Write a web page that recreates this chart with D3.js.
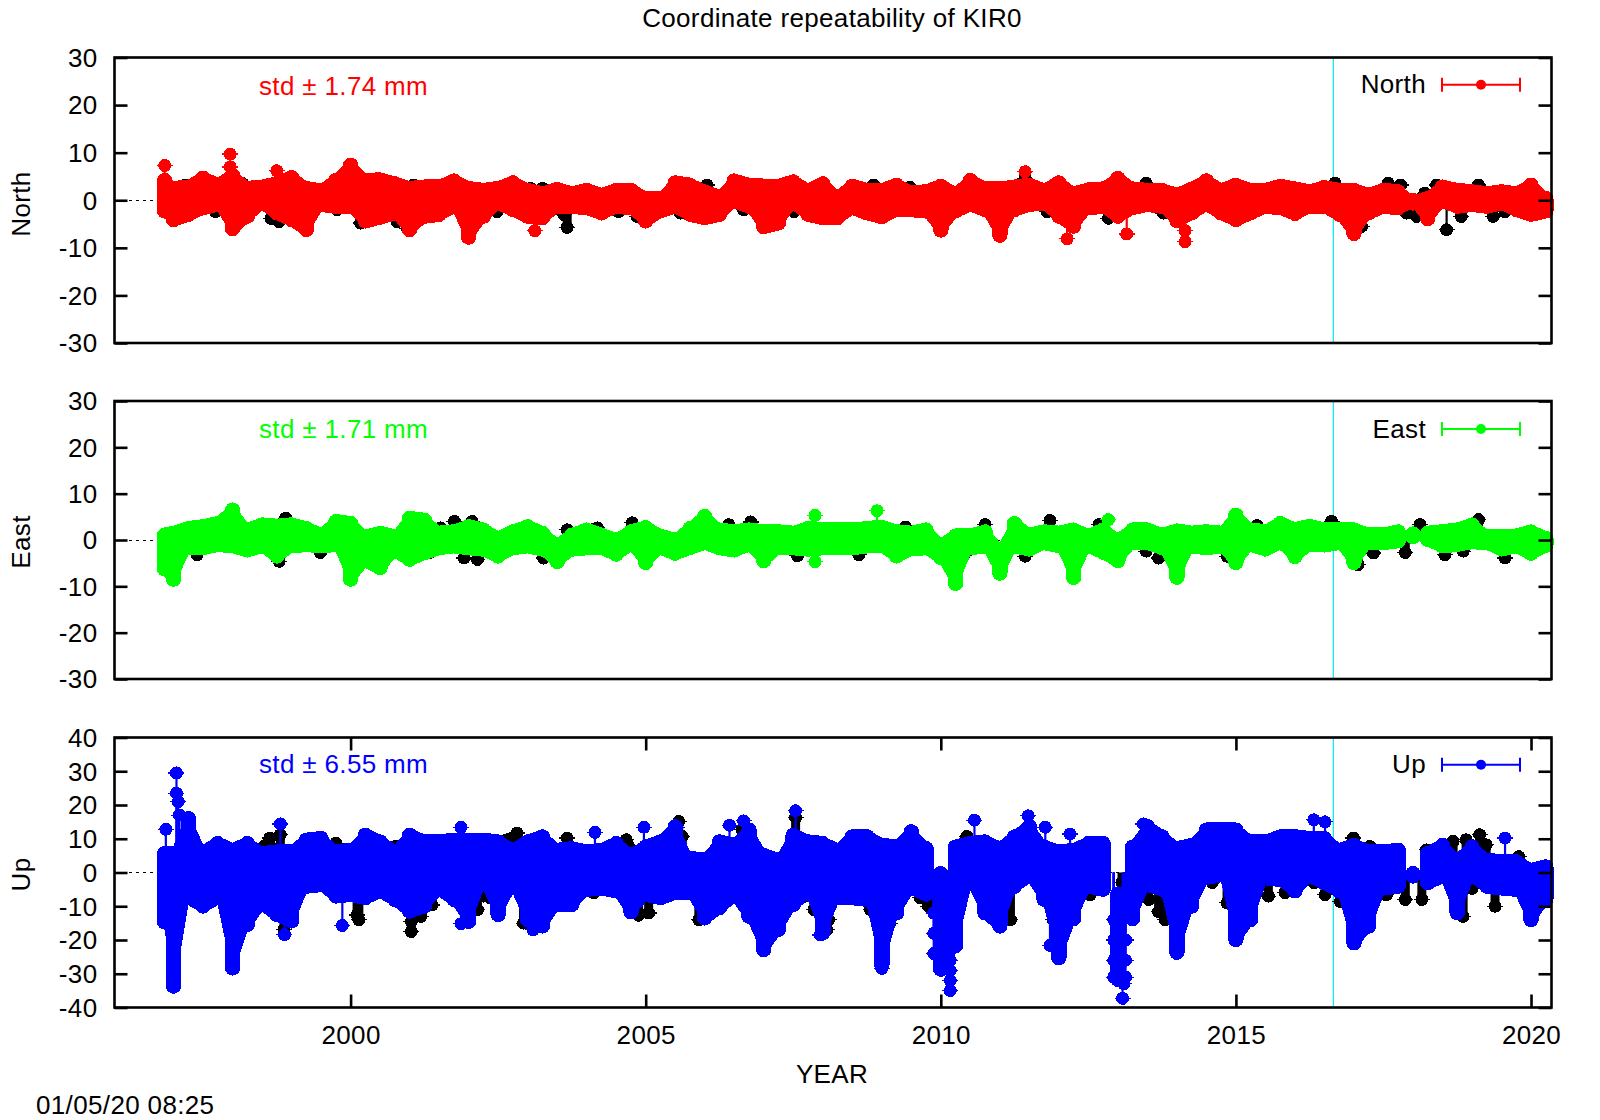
<!DOCTYPE html>
<html><head><meta charset="utf-8">
<script src="https://cdn.jsdelivr.net/npm/d3@7"></script>
<style>
html,body{margin:0;padding:0;background:#fff}
svg{display:block}
text{font-family:"Liberation Sans",Arial,sans-serif;fill:#000;letter-spacing:0.35px}
</style></head><body>
<script>
const titleText="Coordinate repeatability of KIR0", xLabel="YEAR", stamp="01/05/20 08:25";
const xTicks=[2000,2005,2010,2015,2020];
const sampleYears=[1996.85,1997,1997.25,1997.5,1997.75,1998,1998.25,1998.5,1998.75,1999,1999.25,1999.5,1999.75,2000,2000.25,2000.5,2000.75,2001,2001.25,2001.5,2001.75,2002,2002.25,2002.5,2002.75,2003,2003.25,2003.5,2003.75,2004,2004.25,2004.5,2004.75,2005,2005.25,2005.5,2005.75,2006,2006.25,2006.5,2006.75,2007,2007.25,2007.5,2007.75,2008,2008.25,2008.5,2008.75,2009,2009.25,2009.5,2009.75,2010,2010.25,2010.5,2010.75,2011,2011.25,2011.5,2011.75,2012,2012.25,2012.5,2012.75,2013,2013.25,2013.5,2013.75,2014,2014.25,2014.5,2014.75,2015,2015.25,2015.5,2015.75,2016,2016.25,2016.5,2016.75,2017,2017.25,2017.5,2017.75,2018,2018.25,2018.5,2018.75,2019,2019.25,2019.5,2019.75,2020,2020.25];
const stationChangeYear=2016.65;

// North
const northHi=[4.4,2.7,3.0,4.9,3.4,5.5,2.7,3.0,3.7,5.0,2.7,2.2,4.4,7.6,4.4,4.5,3.7,2.7,3.0,3.0,4.3,2.7,2.3,2.7,3.9,2.3,1.6,2.5,1.6,2.3,1.3,2.3,2.3,.6,.6,3.9,3.4,2,.9,4.3,3.4,3.2,3.2,4.1,2.3,3.7,.9,3.2,2.3,2.3,3.4,1.8,2,3.2,1.6,4.4,2.6,2.6,3,3.4,2.3,3.9,1.6,2.4,2.6,4.8,2.6,2.3,2.3,1.3,2.6,4.3,2.3,3.4,2.3,2.3,3.2,2.6,2,2.9,2.3,2.3,1.3,2.3,2,-.3,.6,3,2.3,2,1.6,2,1.6,3.4,.6];
const northLo=[-2.5,-4.3,-3.2,-1.8,-1.1,-6.2,-3.6,-.8,-2.9,-4.3,-6.4,-1.1,-1.5,-1.5,-4.6,-3.8,-2.9,-6.4,-3.6,-3.2,-1.5,-8,-3.6,-.8,-2.2,-3.6,-3.9,-1.5,-1.5,-1.8,-2.9,-1.5,-1.8,-4.6,-2.5,-1.5,-3.2,-3.9,-3.2,-.4,-1.5,-5.8,-5,-.8,-3.2,-3.9,-3.9,-1.8,-2.9,-3.7,-2.2,-2.2,-2.5,-6.5,-2.5,-1.1,-2.2,-7.6,-2.2,-1.1,-.8,-3.6,-5.7,-1.8,-1.5,-3.6,-1.8,-1.1,-1.5,-4.5,-2.9,-1.1,-2.9,-4.3,-2.9,-1.5,-1.8,-3,-1.5,-1.5,-3.2,-7.2,-2.9,-1.5,-1.8,-.3,-4.1,-.4,-1.5,-1.1,-1.5,-.8,-2.2,-3.2,-2.5];
const northSpikeYears=[1996.85,1997.96,1997.96,1998.75,2003.12,2011.43,2012.14,2013.15,2014.14,2014.14];
const northSpikeVals=[7.3,9.7,7.0,6.2,-6.4,6,-8.1,-7.1,-8.7,-6.4];
const northBlackYears=[1997.2,1997.71,1998.65,1998.79,1998.17,2001.07,1999.77,2000.62,2000.79,2000.96,2003.05,2003.25,2003.67,2003.61,2002.48,2000.17,2004.54,2004.85,2005.59,2006.04,2006.66,2007.51,2008.13,2008.86,2009.48,2011.43,2011.8,2012.84,2013.48,2013.77,2017.58,2017.79,2017.89,2018.2,2018.4,2018.82,2019.36,2019.56,2019.11,2018.06,2016.68,2017.13];
const northBlackVals=[3.2,-2.4,-3.8,-4.5,3.5,3.2,-2,-2.4,-4.5,-5.9,2.5,2.5,-5.7,-3,-2.4,-4.8,-2.4,-3.4,-2.7,3.2,-2,-2.4,1.8,3.2,2.7,4.6,-2.4,-3.8,3.6,-2.7,3.6,3.2,-2.7,1.5,3.2,-3.4,-3.4,-2.4,3.2,-3.4,3.6,-5.5];
const northBlackStemYears=[2018.57];
const northBlackStemVals=[-6.2];

// East
const eastHi=[1.3,1.7,2.7,3.1,3.8,6.7,2.4,3.5,3.2,3.5,2.7,1.3,4.2,3.8,.9,1.7,.9,4.9,4.5,1.7,2,3.1,2.4,.6,2,3.1,1.7,-.9,1.3,2.4,1.3,.2,2,2.9,1.1,.2,2.7,5.3,2.4,2,2.4,2,2,1.7,2.7,2.4,2.4,2.4,2.7,3,2,1.7,2.4,-.9,1.1,1.1,2,-1.9,3.8,1.3,2,1.7,2.4,1.1,2.4,.2,2.4,2.4,1.3,2.2,1.7,2,1.7,5.6,2.4,2,3.8,2.5,3.2,2.4,2.4,2.4,1.3,1.3,2,1,1.7,2,2.4,3.5,.9,.9,1.1,2,.6];
const eastLo=[-6.5,-8.7,-1.9,-1.9,-1.2,-1.5,-2.4,-1.5,-3.7,-1.5,-1.2,-1.5,-1.2,-8.7,-4.7,-6.2,-2.6,-4.4,-3,-1.9,-1.5,-1.9,-2.2,-3.7,-1.9,-1.5,-2.2,-4.9,-2.2,-1.9,-1.9,-3.3,-1.2,-5.1,-1.9,-3.1,-1.9,-.8,-1.9,-2.4,-1.2,-4.7,-1.9,-1.9,-2.2,-1.9,-1.9,-1.9,-1.5,-1.5,-3.7,-2.1,-1.9,-4,-9.6,-1.9,-1.5,-7.4,-1.5,-2.2,-.8,-1.5,-8.3,-1.5,-2.9,-4.7,-.8,-.8,-1.9,-8.3,-1.5,-1.9,-1.5,-5.1,-1.2,-2.2,-.8,-3.8,-1.2,-1.3,-.8,-5.1,-.8,-.8,-.4,1,-.1,-1.5,-1.2,-.6,-.8,-2.2,-1.5,-3.1,-1.4];
const eastSpikeYears=[2012.84,2007.87,2007.87,2008.92];
const eastSpikeVals=[4.4,5.3,-4.7,6.3];
const eastBlackYears=[1998.9,1998.79,1997.4,1998.59,2001.76,2002.06,2002.15,2003.67,2004.09,2003.27,2001.52,2001.02,1999.49,2001.92,2001.33,2004.18,2004.77,2006.41,2006.78,2007.57,2011.85,2010.75,2009.4,2010.39,2011.43,2008.61,2009.29,2004.97,2012.68,2013.48,2013.69,2014.85,2015.36,2016.62,2017.33,2017.87,2018.12,2018.54,2018.85,2019.11,2019.56,2017.07];
const eastBlackVals=[4.7,-4.6,-3.2,-2,4,4,-4.2,2.2,2.2,-3.9,2.6,4.4,-2.7,-3.9,-2.8,2.6,3.7,3.3,3.9,-3.4,4.2,3.3,2.8,-3.3,-3.5,-3.2,-2.8,-3.9,3.3,-2.4,-3.9,-3.5,3.1,4,-2.8,-2.7,3.3,-3.2,-2.4,4.4,-3.9,-5.3];
const eastBlackStemYears=[];
const eastBlackStemVals=[];

// Up
const upHi=[5.9,6,16.3,6.4,8.9,6.9,8.9,5.9,6.4,6.4,9.9,10.4,6.4,6.9,11.4,9.4,6.4,11.4,9.4,9.4,9.9,9.9,9.9,9.4,6.9,9.4,10.9,6.9,7.4,6.4,6.9,8.9,5.4,7.9,9.4,13.9,4.5,4,9.4,8.4,12.9,5.4,4,11.4,9.4,8.9,6.9,10.9,10.9,8.4,7.9,12.4,7.4,0,7.9,8.9,9.4,7.4,10.9,13.9,7.9,6.4,6.9,8.9,8.9,-6,7.9,13.9,10.9,7.4,8.4,12.9,12.9,12.9,9.4,9.4,10.9,10.9,10.4,10.4,6.9,8.4,6.4,6.4,6.9,0,5.9,8.4,4,7.9,4,3.5,3.5,1,2];
const upLo=[-15,-34,-7.8,-10.3,-7.8,-28.6,-15.7,-9.8,-12.8,-14.7,-4.4,-3.9,-7.3,-6.8,-7.8,-5.8,-8.3,-11.8,-10.3,-5.3,-8.3,-14.8,-3.4,-12.8,-4.4,-14.3,-16.2,-9.8,-9.8,-5.3,-4.9,-5.8,-12,-6.8,-7.8,-6.3,-6.3,-13.8,-10.8,-7.3,-13.3,-23.2,-17.2,-9.8,-6.3,-18.2,-7.8,-7.8,-8.3,-27.6,-12.3,-4.9,-6.8,-29,-22,-3.4,-12.3,-16.2,-4.4,-1.4,-8.3,-25.6,-14,-4.4,-5.3,-32,-14,-3.9,-5.3,-24,-10.3,-1.9,-.9,-20.2,-14.3,-1.9,-2.4,-5.8,-1.4,-3.4,-5.8,-21.2,-16.2,-4.9,-4.4,-1.4,-3.4,-1.4,-12.3,-1.4,-4.4,-4.9,-5.3,-14.3,-8.3];
const upSpikeYears=[1996.87,1997.05,1997.05,1997.08,1997.1,1998.81,1998.88,1999.86,2001.87,2001.87,2003.09,2004.14,2004.97,2005.53,2006.66,2006.42,2007.54,2007.96,2009,2009,2009,2009.88,2009.88,2009.88,2010.16,2010.16,2010.16,2010.16,2010.16,2010.57,2011.48,2011.77,2011.85,2012.19,2012.93,2012.93,2012.93,2012.93,2013.08,2013.1,2013.13,2013.13,2013.13,2013.43,2016.32,2016.51,2019.56];
const upSpikeVals=[12.8,29.5,23.5,21,17,14.4,-18.4,-15.7,13.4,-15.2,-17,11.9,13.4,13.4,15.3,14,18.3,-18.5,-28.4,-26,-23,-24,-18,-12,-35,-32,-29,-26,-23,15.5,16.8,13.4,-21.6,11.4,-14,-20,-26,-31,-37.3,-33,-31,-26,-20,14.4,15.6,15,10.2];
const upBlackYears=[1997.74,1998.63,1998.53,1998.81,1999.75,2000.76,2000.14,2000.11,2001.03,2001.03,2001.19,2001.38,2001.98,2002.15,2002.25,2002.82,2002.65,2003.67,2003.27,2003.27,2004.12,2002.37,2002.93,1997.97,1998.08,1998.87,1997.12,1998.7,2004.67,2004.71,2005.05,2004.88,2005.56,2005.62,2005.42,2005.9,2006.07,2006.18,2006.63,2006.72,2006.72,2007.54,2007.25,2007.71,2007.85,2008.07,2008.1,2008.19,2009.14,2008.81,2009.65,2009.79,2010.3,2010.44,2010.78,2011.18,2010.9,2011.9,2012.36,2012.53,2012.24,2012.28,2013.07,2013.45,2013.52,2013.69,2013.8,2014.6,2014.14,2014.85,2015.55,2015.83,2016.32,2016.51,2016.77,2016.99,2017.19,2017.27,2017.55,2017.87,2018.15,2018.23,2018.68,2018.9,2019.13,2019.24,2019.39,2018.85,2019.79,2019,2018.25];
const upBlackVals=[8.9,10.2,7.7,11.2,8.7,7.7,-14,-12.6,-17.5,-14.5,-13,-9.6,-14,-11,-7,11.7,9.7,10.2,-10,-8,-6,-7.6,-15,-13,-11,-17,-5.3,7,9.7,7.7,-12,-12.7,15.1,10.7,9.2,-14,-12,-9,12.7,10,-10,16.3,-9,-7,-11,-17,-14,-8,-15,-11,-7.5,-10,-6,10.7,-11,-14,-13.3,-14,-5.6,-6.6,-8,-6,-3,-5,-8,-11.6,-14,-3,-4,-9,-7,-6,-3,-6.6,-8.6,10.2,-11,7.7,-6.6,-8,-8,6.7,9.2,9.7,11.2,8.2,-10,-13,4.7,-4.7,-3];
const upBlackStemYears=[];
const upBlackStemVals=[];

const panelNames=["North","East","Up"];
const panelColors=["#ff0000","#00ff00","#0000ff"];
const stdTexts=["std ± 1.74 mm","std ± 1.71 mm","std ± 6.55 mm"];
const yTicks12=[-30,-20,-10,0,10,20,30], yTicks3=[-40,-30,-20,-10,0,10,20,30,40];
const yLabelCenters=[204,542,874.5];

const W=1600,H=1120;
const FS=26;
const svg=d3.select("body").append("svg").attr("width",W).attr("height",H);
const x=d3.scaleLinear().domain([1996,2020.347]).range([114.5,1551.5]);

const panels=[
 {top:57.5,bot:343,dom:[-30,30],ticks:yTicks12,hi:northHi,lo:northLo,sx:northSpikeYears,sv:northSpikeVals,bx:northBlackYears,bv:northBlackVals,tx:northBlackStemYears,tv:northBlackStemVals,stdY:95,legY:84.7,xt:false},
 {top:401,bot:679,dom:[-30,30],ticks:yTicks12,hi:eastHi,lo:eastLo,sx:eastSpikeYears,sv:eastSpikeVals,bx:eastBlackYears,bv:eastBlackVals,tx:eastBlackStemYears,tv:eastBlackStemVals,stdY:438,legY:429,xt:false},
 {top:737.5,bot:1007.5,dom:[-40,40],ticks:yTicks3,hi:upHi,lo:upLo,sx:upSpikeYears,sv:upSpikeVals,bx:upBlackYears,bv:upBlackVals,tx:upBlackStemYears,tv:upBlackStemVals,stdY:773,legY:764.7,xt:true}
];
const R=6.5, COLW=15.5, CAPIN=(COLW/2-R);
panels.forEach((p,i)=>{
  const col=panelColors[i];
  const y=d3.scaleLinear().domain(p.dom).range([p.bot,p.top]);
  const g=svg.append("g");
  g.append("line").attr("x1",x.range()[0]).attr("x2",x.range()[1]).attr("y1",y(0)).attr("y2",y(0))
   .attr("stroke","#000").attr("stroke-width",1).attr("stroke-dasharray","3,4").attr("shape-rendering","crispEdges");
  g.append("line").attr("x1",x(stationChangeYear)).attr("x2",x(stationChangeYear)).attr("y1",p.top).attr("y2",p.bot)
   .attr("stroke","#00e5ee").attr("stroke-width",1.2);
  const marker=(yr,v,c,sw)=>{
    g.append("line").attr("x1",x(yr)).attr("x2",x(yr)).attr("y1",y(0)).attr("y2",y(v)).attr("stroke",c).attr("stroke-width",sw);
    g.append("circle").attr("cx",x(yr)).attr("cy",y(v)).attr("r",R).attr("fill",c).attr("shape-rendering","crispEdges");
    g.append("line").attr("x1",x(yr)-8).attr("x2",x(yr)+8).attr("y1",y(v)).attr("y2",y(v)).attr("stroke",c).attr("stroke-width",1.2).attr("shape-rendering","crispEdges");
  };
  p.bx.forEach((yr,k)=>marker(yr,p.bv[k],"#000",9));
  p.tx.forEach((yr,k)=>marker(yr,p.tv[k],"#000",2.2));
  // envelope of the dense daily solutions, broken where the series closes up
  const idx=d3.range(sampleYears.length);
  const band=d3.area().defined(k=>p.hi[k]>-2.5&&p.hi[k]!==0&&p.lo[k]<0.5)
    .x(k=>x(sampleYears[k])).y0(k=>y(p.lo[k])+R).y1(k=>y(p.hi[k])-R);
  g.append("path").attr("d",band(idx)).attr("fill",col).attr("shape-rendering","crispEdges");
  // one rounded bar per sampled interval
  sampleYears.forEach((yr,k)=>{
    g.append("line").attr("x1",x(yr)).attr("x2",x(yr))
     .attr("y1",y(p.hi[k])+CAPIN).attr("y2",y(p.lo[k])-CAPIN)
     .attr("stroke",col).attr("stroke-width",COLW).attr("stroke-linecap","round").attr("shape-rendering","crispEdges");
  });
  p.sx.forEach((yr,k)=>marker(yr,p.sv[k],col,2.2));
  g.append("rect").attr("x",x.range()[0]).attr("y",p.top).attr("width",x.range()[1]-x.range()[0]).attr("height",p.bot-p.top)
   .attr("fill","none").attr("stroke","#000").attr("stroke-width",2.6);
  const ay=g.append("g").attr("transform",`translate(${x.range()[0]},0)`).call(d3.axisLeft(y).tickValues(p.ticks).tickSize(-13).tickPadding(17).tickFormat(String));
  ay.select(".domain").remove();
  ay.selectAll("line").attr("stroke","#000").attr("stroke-width",2.6);
  ay.selectAll("text").attr("font-size",FS).attr("font-family","Liberation Sans").attr("fill","#000").attr("dy","0.34em");
  const ar=g.append("g").attr("transform",`translate(${x.range()[1]},0)`).call(d3.axisRight(y).tickValues(p.ticks).tickSize(-13).tickFormat(""));
  ar.select(".domain").remove();
  ar.selectAll("line").attr("stroke","#000").attr("stroke-width",2.6);
  if(p.xt){
    const ab=g.append("g").attr("transform",`translate(0,${p.bot})`).call(d3.axisBottom(x).tickValues(xTicks).tickSize(-13).tickPadding(18).tickFormat(String));
    ab.select(".domain").remove();
    ab.selectAll("line").attr("stroke","#000").attr("stroke-width",2.6);
    ab.selectAll("text").attr("font-size",FS).attr("font-family","Liberation Sans").attr("fill","#000");
    const at=g.append("g").attr("transform",`translate(0,${p.top})`).call(d3.axisTop(x).tickValues(xTicks).tickSize(-13).tickFormat(""));
    at.select(".domain").remove();
    at.selectAll("line").attr("stroke","#000").attr("stroke-width",2.6);
  }
  g.append("text").attr("x",259).attr("y",p.stdY).attr("font-size",FS).style("fill",col).text(stdTexts[i]);
  g.append("text").attr("x",1426).attr("y",p.legY+8.5).attr("text-anchor","end").attr("font-size",FS).text(panelNames[i]);
  const lx1=1442,lx2=1520;
  g.append("line").attr("x1",lx1).attr("x2",lx2).attr("y1",p.legY).attr("y2",p.legY).attr("stroke",col).attr("stroke-width",2);
  [lx1,lx2].forEach(v=>g.append("line").attr("x1",v).attr("x2",v).attr("y1",p.legY-7).attr("y2",p.legY+7).attr("stroke",col).attr("stroke-width",2));
  g.append("circle").attr("cx",(lx1+lx2)/2).attr("cy",p.legY).attr("r",5).attr("fill",col);
  g.append("text").attr("transform",`translate(30,${yLabelCenters[i]}) rotate(-90)`).attr("text-anchor","middle").attr("font-size",FS).text(panelNames[i]);
});
svg.append("text").attr("x",832).attr("y",27).attr("text-anchor","middle").attr("font-size",FS).text(titleText);
svg.append("text").attr("x",832).attr("y",1083).attr("text-anchor","middle").attr("font-size",FS).text(xLabel);
svg.append("text").attr("x",36).attr("y",1114).attr("font-size",FS).text(stamp);
</script>
</body></html>
